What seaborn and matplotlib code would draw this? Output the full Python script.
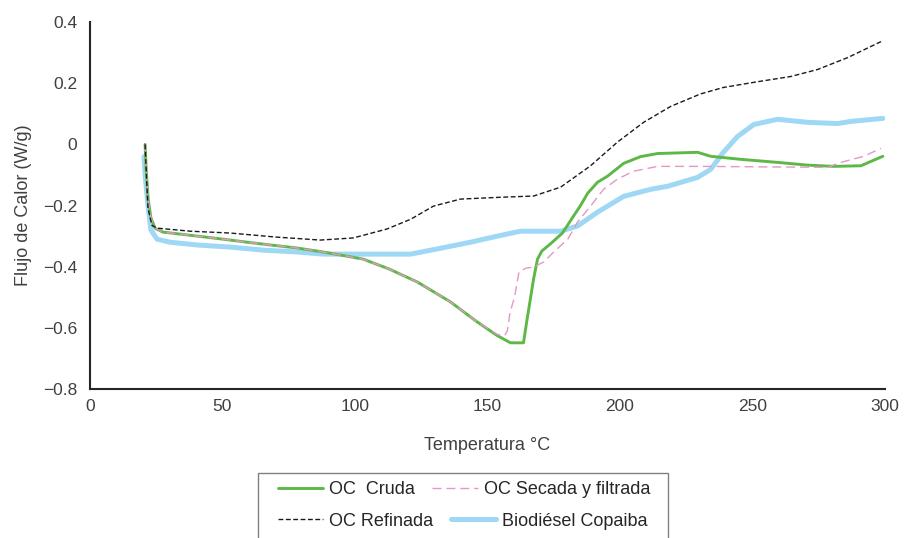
import numpy as np
import pandas as pd
import seaborn as sns
import matplotlib.pyplot as plt
from matplotlib.patches import Rectangle
from matplotlib.ticker import FuncFormatter

# ── Data ─────────────────────────────────────────────────────
temp_refinada = [20.8, 21.2, 21.9, 23.4, 25.3, 37.8, 52.9, 69.9, 86.9, 99.4,
                 112.0, 121.0, 129.6, 139.8, 154.9, 167.4, 177.6, 188.9, 199.0,
                 208.9, 219.1, 230.4, 239.0, 252.0, 264.5, 274.6, 286.0, 298.5]
flujo_refinada = [0.0, -0.08, -0.21, -0.265, -0.274, -0.284, -0.29, -0.303, -0.313,
                  -0.306, -0.277, -0.245, -0.202, -0.179, -0.173, -0.169, -0.14,
                  -0.07, 0.007, 0.072, 0.124, 0.165, 0.186, 0.205, 0.222, 0.245,
                  0.284, 0.336]

temp_cruda = [20.8, 21.2, 21.9, 23.0, 24.6, 27.6, 40.4, 50.2, 59.3, 68.0, 78.2,
              88.0, 103.0, 113.0, 123.5, 136.0, 146.0, 153.8, 158.7, 163.6, 164.8,
              166.2, 167.4, 168.9, 170.5, 173.8, 178.3, 181.3, 185.1, 187.8, 191.5,
              195.3, 201.4, 207.8, 214.2, 229.3, 234.2, 245.6, 259.5, 270.9, 280.7,
              290.9, 299.2]
flujo_cruda = [0.0, -0.08, -0.18, -0.24, -0.275, -0.287, -0.3, -0.31, -0.32, -0.329,
               -0.339, -0.352, -0.375, -0.408, -0.45, -0.515, -0.58, -0.626, -0.649,
               -0.649, -0.58, -0.505, -0.44, -0.375, -0.349, -0.325, -0.29, -0.25,
               -0.2, -0.16, -0.124, -0.104, -0.062, -0.04, -0.03, -0.026, -0.039,
               -0.049, -0.059, -0.068, -0.072, -0.07, -0.039]

temp_secada = [20.8, 21.2, 21.9, 23.0, 24.6, 27.6, 40.4, 50.2, 59.3, 68.0, 78.2,
               88.0, 103.0, 113.0, 123.5, 136.0, 146.0, 153.8, 156.5, 157.5, 158.5,
               160.2, 161.9, 164.5, 167.4, 171.2, 175.0, 180.3, 184.0, 188.9, 193.8,
               199.0, 205.0, 214.2, 230.4, 260.0, 278.4, 283.3, 292.0, 298.5]
flujo_secada = [0.0, -0.08, -0.18, -0.24, -0.275, -0.287, -0.3, -0.31, -0.32, -0.329,
                -0.339, -0.352, -0.375, -0.408, -0.45, -0.515, -0.58, -0.622, -0.625,
                -0.61, -0.55, -0.5, -0.417, -0.405, -0.401, -0.385, -0.352, -0.31,
                -0.254, -0.202, -0.147, -0.114, -0.088, -0.072, -0.072, -0.074,
                -0.075, -0.059, -0.039, -0.013]

temp_copaiba = [20.4, 20.8, 21.9, 23.0, 25.3, 30.2, 40.4, 52.9, 65.4, 78.2, 88.0,
                121.0, 131.0, 143.6, 153.8, 162.4, 177.6, 184.0, 191.5, 201.4, 211.6,
                218.0, 229.3, 234.2, 239.0, 244.4, 250.5, 259.5, 270.9, 282.2, 287.0,
                299.2]
flujo_copaiba = [-0.04, -0.1, -0.2, -0.28, -0.31, -0.32, -0.329, -0.336, -0.346,
                 -0.352, -0.359, -0.359, -0.342, -0.32, -0.3, -0.284, -0.284, -0.267,
                 -0.222, -0.17, -0.147, -0.137, -0.108, -0.082, -0.026, 0.026, 0.065,
                 0.082, 0.072, 0.068, 0.075, 0.085]

x_ticks = [0, 50, 100, 150, 200, 250, 300]
y_ticks = [-0.8, -0.6, -0.4, -0.2, 0.0, 0.2, 0.4]

sns.set_theme(style="white")
plt.rcParams["font.family"] = ["Liberation Sans", "DejaVu Sans"]

TEXT = "#404040"

fig = plt.figure(figsize=(9.06, 5.38), dpi=100)
ax = fig.add_axes([0.0993, 0.277, 0.8775, 0.682])

sns.lineplot(x=temp_cruda, y=flujo_cruda, ax=ax, color="#5DB847", linewidth=2.1,
             estimator=None, sort=False, label="OC  Cruda")
sns.lineplot(x=temp_secada, y=flujo_secada, ax=ax, color="#E398C6", linewidth=1.0,
             estimator=None, sort=False, label="OC Secada y filtrada",
             dashes=(6.5, 3.5))
sns.lineplot(x=temp_refinada, y=flujo_refinada, ax=ax, color="#1A1A1A", linewidth=1.0,
             estimator=None, sort=False, label="OC Refinada", dashes=(3.5, 1.8))
sns.lineplot(x=temp_copaiba, y=flujo_copaiba, ax=ax, color="#9ED8F4", linewidth=3.6,
             estimator=None, sort=False, label="Biodiésel Copaiba")

ax.lines[0].set_zorder(4)
ax.lines[1].set_zorder(5)
ax.lines[2].set_zorder(5)
ax.lines[3].set_zorder(2)

ax.set_xlim(0, 300)
ax.set_ylim(-0.8, 0.4)
ax.set_xticks(x_ticks)
ax.set_yticks(y_ticks)
ax.yaxis.set_major_formatter(FuncFormatter(lambda v, p: f"{v:g}".replace("-", "\u2212")))
ax.tick_params(axis="both", length=0, labelsize=12.5, colors=TEXT)
ax.tick_params(axis="x", pad=7.5)
ax.tick_params(axis="y", pad=9)

for side in ["top", "right"]:
    ax.spines[side].set_visible(False)
for side in ["left", "bottom"]:
    ax.spines[side].set_color("#262626")
    ax.spines[side].set_linewidth(1.5)

ax.set_xlabel("Temperatura °C", fontsize=13, color=TEXT, labelpad=16)
ax.set_ylabel("Flujo de Calor (W/g)", fontsize=13, color=TEXT, labelpad=8)

# ── Legend: two flowing rows inside one box, like the original ─
ax.get_legend().remove()
handles, labels = ax.get_legend_handles_labels()
hmap = dict(zip(labels, handles))
rows = [(["OC  Cruda", "OC Secada y filtrada"], 490),
        (["OC Refinada", "Biodiésel Copaiba"], 521)]
for names, ypix in rows:
    leg = fig.legend([hmap[n] for n in names], names, loc="center left",
                     bbox_to_anchor=(278 / 906, 1 - ypix / 538), ncol=2,
                     fontsize=13, frameon=False, borderpad=0, borderaxespad=0,
                     handlelength=2.5, handletextpad=0.35, columnspacing=0.95)
    for t in leg.get_texts():
        t.set_color("#262626")

fig.add_artist(Rectangle((258 / 906, -0.05), (668 - 258) / 906, 0.05 + 1 - 473 / 538,
                         transform=fig.transFigure, fill=False,
                         edgecolor="#808080", linewidth=1.0))

fig.savefig("out.png", dpi=100)
